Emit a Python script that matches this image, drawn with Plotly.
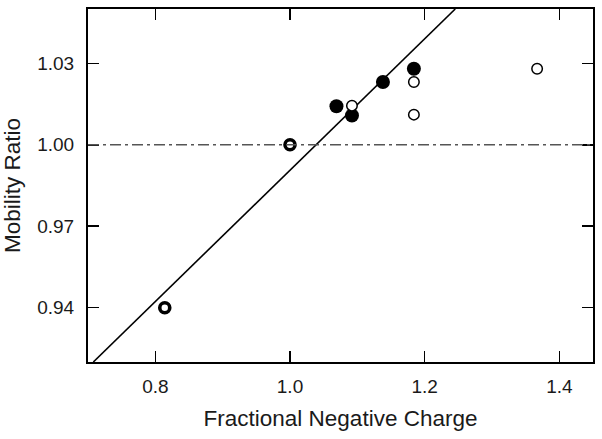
import plotly.graph_objects as go

# Data
filled_x = [1.069, 1.092, 1.138, 1.184]
filled_y = [1.0142, 1.0108, 1.0231, 1.0280]

open_x = [1.092, 1.184, 1.184, 1.367]
open_y = [1.0144, 1.0231, 1.0111, 1.0280]

ref_x = [0.814, 1.000]
ref_y = [0.940, 1.000]

fit_x = [0.7079, 1.2454]
fit_y = [0.920, 1.050]

baseline_y = 1.00
x_ticks = [0.8, 1.0, 1.2, 1.4]
x_tick_text = ["0.8", "1.0", "1.2", "1.4"]
y_ticks = [0.94, 0.97, 1.00, 1.03]
y_tick_text = ["0.94", "0.97", "1.00", "1.03"]

FONT = "Liberation Sans, Arial, sans-serif"

fig = go.Figure()

fig.add_shape(type="line", xref="paper", yref="y", x0=0, x1=1,
              y0=baseline_y, y1=baseline_y,
              line=dict(color="#555555", width=1.6, dash="11px,4px,3px,4px"))

fig.add_trace(go.Scatter(x=fit_x, y=fit_y, mode="lines",
                         line=dict(color="black", width=1.6),
                         showlegend=False, hoverinfo="skip"))

fig.add_trace(go.Scatter(x=ref_x, y=ref_y, mode="markers",
                         marker=dict(symbol="circle", size=10, color="white",
                                     line=dict(color="black", width=3.6)),
                         showlegend=False))

fig.add_trace(go.Scatter(x=filled_x, y=filled_y, mode="markers",
                         marker=dict(symbol="circle", size=14, color="black",
                                     line=dict(width=0)),
                         showlegend=False))

fig.add_trace(go.Scatter(x=open_x, y=open_y, mode="markers",
                         marker=dict(symbol="circle", size=10.5, color="white",
                                     line=dict(color="black", width=1.5)),
                         showlegend=False))

axis_common = dict(
    showgrid=False, zeroline=False,
    showline=True, linecolor="black", linewidth=2, mirror="ticks",
    ticks="inside", ticklen=11, tickwidth=1.6, tickcolor="black",
    tickfont=dict(family=FONT, size=19, color="#1a1a1a"),
)

fig.update_layout(
    width=602, height=439,
    margin=dict(l=88, r=9, t=7, b=77),
    paper_bgcolor="white", plot_bgcolor="white",
    xaxis=dict(range=[0.7, 1.45], tickvals=x_ticks, ticktext=x_tick_text,
               ticklabelstandoff=6,
               title=dict(text="Fractional Negative Charge",
                          font=dict(family=FONT, size=22.5, color="#1a1a1a"),
                          standoff=14),
               **axis_common),
    yaxis=dict(range=[0.92, 1.05], tickvals=y_ticks, ticktext=y_tick_text,
               ticklabelstandoff=8,
               title=dict(text="Mobility Ratio",
                          font=dict(family=FONT, size=22.5, color="#1a1a1a"),
                          standoff=10),
               **axis_common),
)

fig.write_html("out.html",
               config={"displayModeBar": False, "staticPlot": True},
               post_script="document.body.style.margin='0';document.body.style.overflow='hidden';")
